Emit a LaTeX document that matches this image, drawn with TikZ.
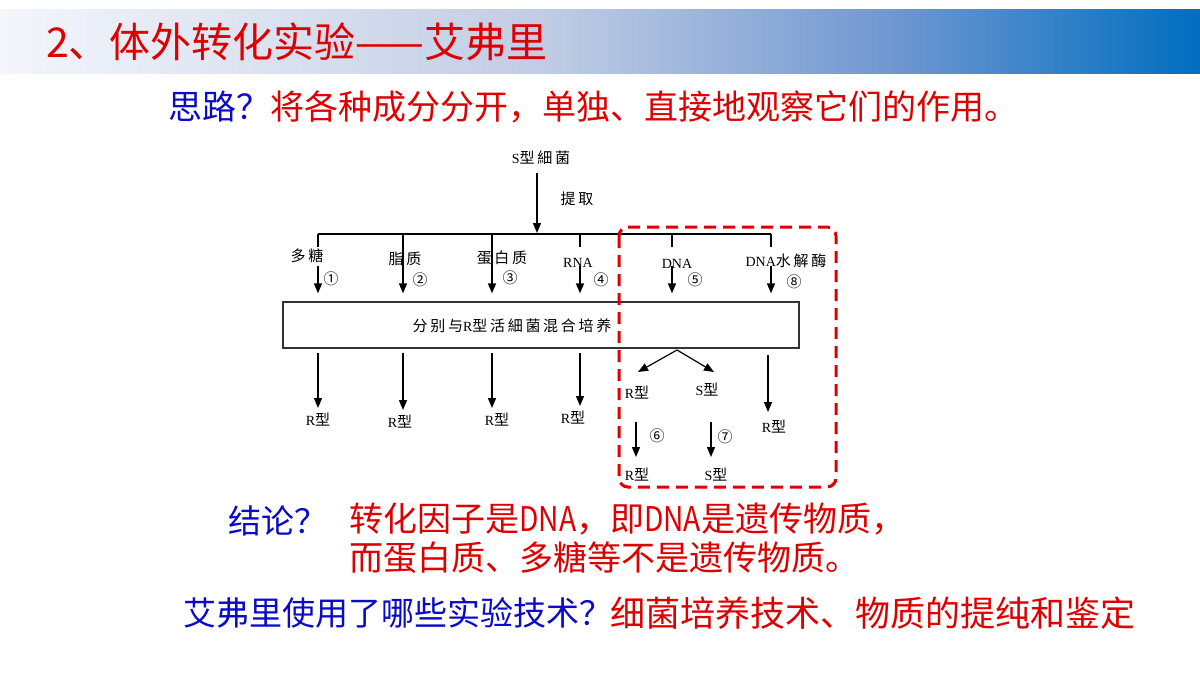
\documentclass[tikz,border=0pt]{standalone}
\usepackage{fontspec}
\usepackage{graphicx}
\setmainfont{Noto Sans CJK SC}
\newfontfamily\dgf[LetterSpace=18]{Noto Sans CJK SC}
\newfontfamily\ltf{Liberation Serif}
\usetikzlibrary{arrows.meta}
\definecolor{tred}{RGB}{222,0,0}
\definecolor{tblue}{RGB}{10,10,200}
\definecolor{hdA}{RGB}{244,246,251}
\definecolor{hdB}{RGB}{192,204,228}
\definecolor{hdC}{RGB}{110,150,208}
\definecolor{hdD}{RGB}{0,110,192}
\definecolor{dred}{RGB}{220,0,0}
\newcommand\Dg[1]{{\fontsize{15}{15}\dgf #1}}
\newcommand\Lt[1]{{\fontsize{14}{14}\ltf #1}}
\newcommand\Nd{\scalebox{0.83}[1]{DNA}}
\tikzset{
  arr/.style={draw=black, line width=1.4pt, -{Triangle[length=10pt,width=8pt]}},
  ln/.style={draw=black, line width=1.2pt},
  lab/.style={inner sep=0pt, anchor=center},
  big/.style={inner sep=0pt, anchor=west, font=\fontsize{34}{38}\selectfont},
}
\begin{document}
\begin{tikzpicture}[x=1pt,y=-1pt]
\fill[white] (0,0) rectangle (1200,675);
\useasboundingbox (0,0) rectangle (1200,675);
% header band
\shade[left color=hdA,right color=hdB] (0,9) rectangle (550,73);
\shade[left color=hdB,right color=hdC] (549.5,9) rectangle (900,73);
\shade[left color=hdC,right color=hdD] (899.5,9) rectangle (1200,73);
\node[inner sep=0pt, anchor=west, text=tred, font=\fontsize{41}{44}\selectfont] (title) at (46,42) {2、体外转化实验——艾弗里};
% idea line
\node[big] (idea) at (168,107) {\textcolor{tblue}{思路？}\textcolor{tred}{将各种成分分开，单独、直接地观察它们的作用。}};
% conclusion
\node[big, text=tblue, font=\fontsize{33}{38}\selectfont] (conq) at (228,521) {结论？};
\node[big, text=tred] (con1) at (349,519) {转化因子是\Nd，即\Nd 是遗传物质，};
\node[big, text=tred] (con2) at (349,558) {而蛋白质、多糖等不是遗传物质。};
% techniques
\node[big, text=tblue, font=\fontsize{33}{38}\selectfont] (tq) at (183,613) {艾弗里使用了哪些实验技术？};
\node[big, text=tred, font=\fontsize{35}{38}\selectfont] (ta) at (610,613) {细菌培养技术、物质的提纯和鉴定};

% ---------- diagram ----------
\node[lab] (s) at (541,158) {\Lt{S}\Dg{型細菌}};
\coordinate (hub) at (537,233);
\draw[arr, shorten <=8pt] (s.south -| hub) -- (hub);
\node[lab] (ext) at (577,199) {\Dg{提取}};
\coordinate (b1) at (318,234);
\coordinate (b2) at (403,234);
\coordinate (b3) at (492,234);
\coordinate (b4) at (580,234);
\coordinate (b5) at (672,234);
\coordinate (b6) at (771,234);
\draw[ln] (b1) -- (b6);
% mixing box
\node[draw=black!80, line width=1.3pt, minimum width=516pt, minimum height=46pt, inner sep=0pt] (mix) at (541,325) {};
\node[lab] (mixt) at (512,326) {\Dg{分别与}\Lt{R}\Dg{型活細菌混合培养}};
% labels
\node[lab] (L1) at (307,256) {\Dg{多糖}};
\node[lab] (L2) at (405,259) {\Dg{脂质}};
\node[lab] (L3) at (502,258) {\Dg{蛋白质}};
\node[lab] (L4) at (578,263) {\Lt{RNA}};
\node[lab] (L5) at (677,264) {\Lt{DNA}};
\node[lab] (L6) at (786,261) {\Lt{DNA}\Dg{水解酶}};
\node[lab] (N1) at (331,279) {\Dg{①}};
\node[lab] (N2) at (420,280) {\Dg{②}};
\node[lab] (N3) at (510,278) {\Dg{③}};
\node[lab] (N4) at (601,280) {\Dg{④}};
\node[lab] (N5) at (695,280) {\Dg{⑤}};
\node[lab] (N6) at (794,282) {\Dg{⑧}};
% branch stems
\draw[ln] (b1) -- ++(0,13);
\draw[ln] (b2) -- ++(0,32);
\draw[ln] (b3) -- ++(0,32);
\draw[ln] (b4) -- ++(0,13);
\draw[ln] (b5) -- ++(0,13);
\draw[ln] (b6) -- ++(0,13);
% arrows into box
\foreach \b in {b1,b2,b3,b4,b5,b6}{
  \draw[arr, shorten >=8pt] (\b) ++(0,32) -- (mix.north -| \b);
}
% results below box
\node[lab] (R1) at (318,420) {\Lt{R}\Dg{型}};
\node[lab] (R2) at (400,422) {\Lt{R}\Dg{型}};
\node[lab] (R3) at (497,420) {\Lt{R}\Dg{型}};
\node[lab] (R4) at (573,418) {\Lt{R}\Dg{型}};
\draw[arr, shorten <=4pt] (mix.south -| b1) -- (318,408);
\draw[arr, shorten <=4pt] (mix.south -| b2) -- (403,410);
\draw[arr, shorten <=4pt] (mix.south -| b3) -- (492,408);
\draw[arr, shorten <=4pt] (mix.south -| b4) -- (580,406);
% DNA branch
\coordinate (fk) at (677,350);
\coordinate (ftl) at (638,372);
\coordinate (ftr) at (714,372);
\draw[arr, line width=1.2pt] (fk) -- (ftl);
\draw[arr, line width=1.2pt] (fk) -- (ftr);
\node[lab] (RR) at (637,393) {\Lt{R}\Dg{型}};
\node[lab] (SS) at (707,390) {\Lt{S}\Dg{型}};
\coordinate (a6s) at (636,422);
\coordinate (a6e) at (636,457);
\coordinate (a7s) at (711,422);
\coordinate (a7e) at (711,457);
\draw[arr] (a6s) -- (a6e);
\draw[arr] (a7s) -- (a7e);
\node[lab] (N7) at (657,436) {\Dg{⑥}};
\node[lab] (N8) at (725,437) {\Dg{⑦}};
\node[lab] (RR2) at (637,475) {\Lt{R}\Dg{型}};
\node[lab] (SS2) at (716,475) {\Lt{S}\Dg{型}};
% hydrolase branch
\coordinate (hz) at (768,412);
\draw[arr, shorten <=6pt] (mix.south -| hz) -- (hz);
\node[lab] (RH) at (774,427) {\Lt{R}\Dg{型}};
% red dashed frame
\draw[dred, line width=3pt, dash pattern=on 12pt off 7pt, rounded corners=9pt] (619,227) rectangle (836,487);
\end{tikzpicture}
\end{document}
